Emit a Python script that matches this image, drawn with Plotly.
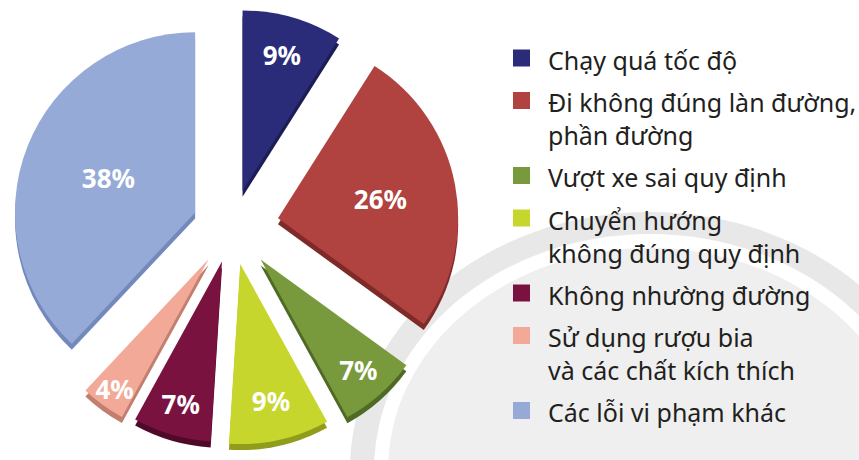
import plotly.graph_objects as go

# Traffic violation causes and their share (%)
labels = [
    "Chạy quá tốc độ",
    "Đi không đúng làn đường,<br>phần đường",
    "Vượt xe sai quy định",
    "Chuyển hướng<br>không đúng quy định",
    "Không nhường đường",
    "Sử dụng rượu bia<br>và các chất kích thích",
    "Các lỗi vi phạm khác",
]
values = [9, 26, 7, 9, 7, 4, 38]
colors = ["#2a2b79", "#b0423f", "#789a3d", "#c6d62c", "#7a1240", "#f3a998", "#95aad6"]
side_colors = ["#1c1d55", "#7e2a28", "#4f6a25", "#8f9c1c", "#4e0a28", "#c27e6e", "#7389bd"]
pulls = [0.21, 0.26, 0.24, 0.21, 0.20, 0.22, 0.22]

W, H = 859, 460
depth = 6  # visible thickness of the slices, px


def px(x):
    return x / W


def py(y):
    return 1 - y / H


fig = go.Figure()

common = dict(
    values=values,
    labels=labels,
    sort=False,
    direction="clockwise",
    rotation=0,
    pull=pulls,
    showlegend=False,
)

# darker copy slightly lower: gives the slices a visible side/thickness
fig.add_trace(go.Pie(
    **common,
    marker=dict(colors=side_colors, line=dict(width=0)),
    textinfo="none",
    hoverinfo="skip",
    domain=dict(x=[0, 464 / W], y=[0, 1 - depth / H]),
))

fig.add_trace(go.Pie(
    **common,
    marker=dict(colors=colors, line=dict(width=0)),
    texttemplate="%{value}%",
    textposition="inside",
    insidetextorientation="horizontal",
    textfont=dict(family="Noto Sans", size=26, color="white", weight="bold"),
    hoverinfo="label+percent",
    domain=dict(x=[0, 464 / W], y=[depth / H, 1]),
))

# faint background emblem: arch band with a filled inner dome
shapes = []
emblem = [(300, 258, "#e8e8e8"), (276, 236, "#ffffff"), (262, 222, "#efefef")]
ecx, ecy = 650, 470
for rx, ry, col in emblem:
    shapes.append(dict(
        type="circle", xref="paper", yref="paper", layer="below",
        x0=px(ecx - rx), x1=px(ecx + rx), y0=py(ecy + ry), y1=py(ecy - ry),
        fillcolor=col, line=dict(width=0),
    ))

# legend: coloured squares with (possibly multi-line) labels
font_size = 25
line_h = 1.3 * font_size
gap = 10
sq = 17
y = 58
annotations = []
for lab, col in zip(labels, colors):
    n_lines = lab.count("<br>") + 1
    shapes.append(dict(
        type="rect", xref="paper", yref="paper",
        x0=px(513), x1=px(513 + sq), y0=py(y + sq / 2), y1=py(y - sq / 2),
        fillcolor=col, line=dict(width=0),
    ))
    annotations.append(dict(
        text=lab, xref="paper", yref="paper",
        x=px(546), y=py(y - line_h / 2 - 1),
        xanchor="left", yanchor="top", align="left", showarrow=False,
        font=dict(family="Noto Sans", size=font_size, color="#231f20"),
    ))
    y += n_lines * line_h + gap

fig.update_layout(
    width=W, height=H,
    margin=dict(l=0, r=0, t=0, b=0),
    paper_bgcolor="white",
    plot_bgcolor="white",
    uniformtext=dict(minsize=26, mode="show"),
    shapes=shapes,
    annotations=annotations,
)

fig.write_html("out.html")
